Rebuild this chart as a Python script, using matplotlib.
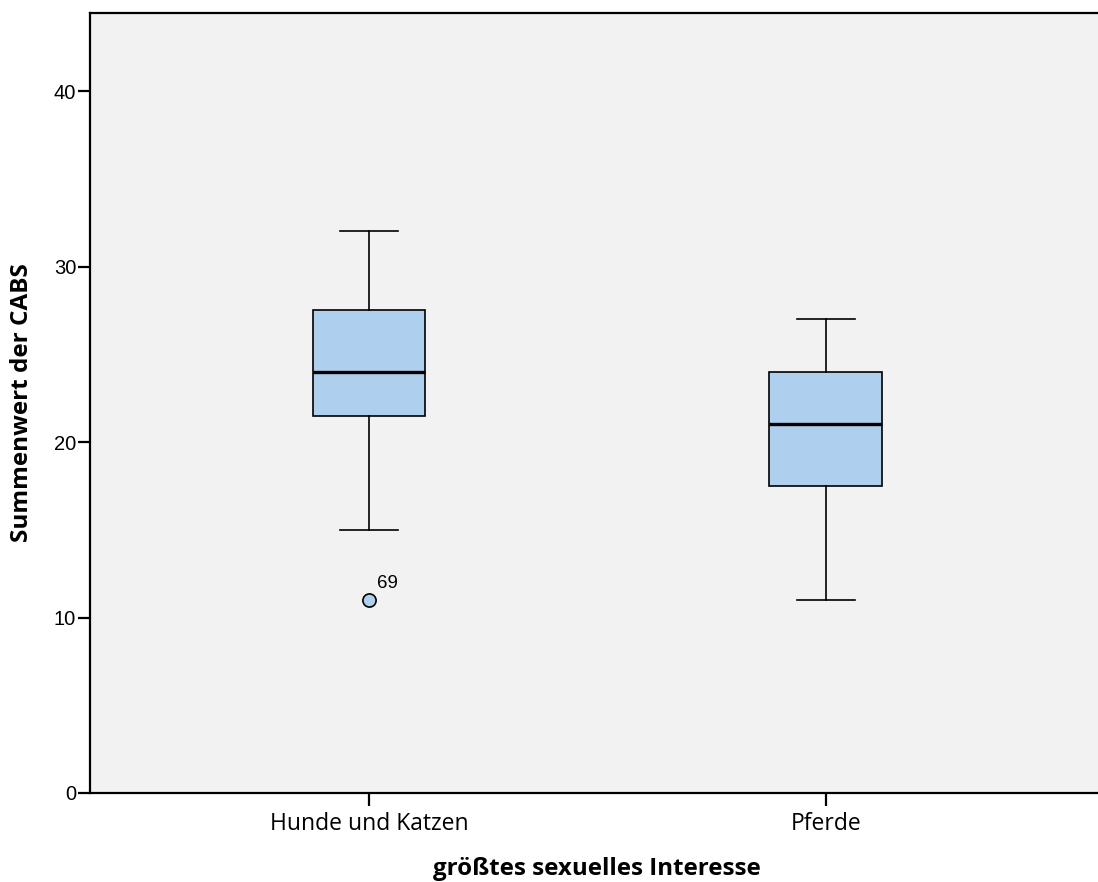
import matplotlib
matplotlib.use("Agg")
import matplotlib.pyplot as plt

# Box summaries for the CABS total score by main sexual interest
categories = ["Hunde und Katzen", "Pferde"]
whisker_low = [15, 11]
q1 = [21.5, 17.5]
median = [24, 21]
q3 = [27.5, 24]
whisker_high = [32, 27]
outliers = [[11], []]
outlier_ids = [["69"], []]

y_ticks = [0, 10, 20, 30, 40]

W, H = 1098, 882
fig = plt.figure(figsize=(W / 100, H / 100), dpi=100)
ax = fig.add_axes([90 / W, 89 / H, 1015 / W, 780 / H])
ax.set_facecolor("#F2F2F2")

fill = "#AECFEE"
stats = []
for i, name in enumerate(categories):
    stats.append(dict(label=name, whislo=whisker_low[i], q1=q1[i], med=median[i],
                      q3=q3[i], whishi=whisker_high[i], fliers=outliers[i]))

positions = [1, 2]
ax.bxp(stats, positions=positions, widths=0.247, patch_artist=True,
       showfliers=True, capwidths=0.127,
       boxprops=dict(facecolor=fill, edgecolor="black", linewidth=1.2),
       medianprops=dict(color="black", linewidth=2.4),
       whiskerprops=dict(color="black", linewidth=1.2),
       capprops=dict(color="black", linewidth=1.2),
       flierprops=dict(marker="o", markerfacecolor=fill, markeredgecolor="black",
                       markersize=9.5, markeredgewidth=1.2))

for pos, vals, ids in zip(positions, outliers, outlier_ids):
    for v, lab in zip(vals, ids):
        ax.annotate(lab, (pos, v), xytext=(6, 6), textcoords="offset points",
                    fontsize=13.5, family="Liberation Sans", color="black",
                    ha="left", va="bottom")

ax.set_xlim(0.3895, 2.611)
ax.set_ylim(0, 44.45)
ax.set_yticks(y_ticks)
ax.set_yticklabels([str(t) for t in y_ticks], family="Liberation Sans", fontsize=14.5)
ax.set_xticks(positions)
ax.set_xticklabels(categories, family="Open Sans", fontsize=16.5)

for side in ("left", "bottom", "top"):
    ax.spines[side].set_linewidth(1.6)
    ax.spines[side].set_color("black")
ax.spines["right"].set_visible(False)
ax.tick_params(axis="y", length=9, width=1.6, pad=1)
ax.tick_params(axis="x", length=9, width=1.6, pad=5)

fig.text(22 / W, 1 - 403 / H, "Summenwert der CABS", rotation=90, ha="center",
         va="center", fontsize=17.5, fontweight="bold", family="Open Sans")
fig.text(597 / W, 1 - 869 / H, "größtes sexuelles Interesse", ha="center",
         va="center", fontsize=17.4, fontweight="bold", family="Open Sans")

fig.savefig("out.png", dpi=100)
